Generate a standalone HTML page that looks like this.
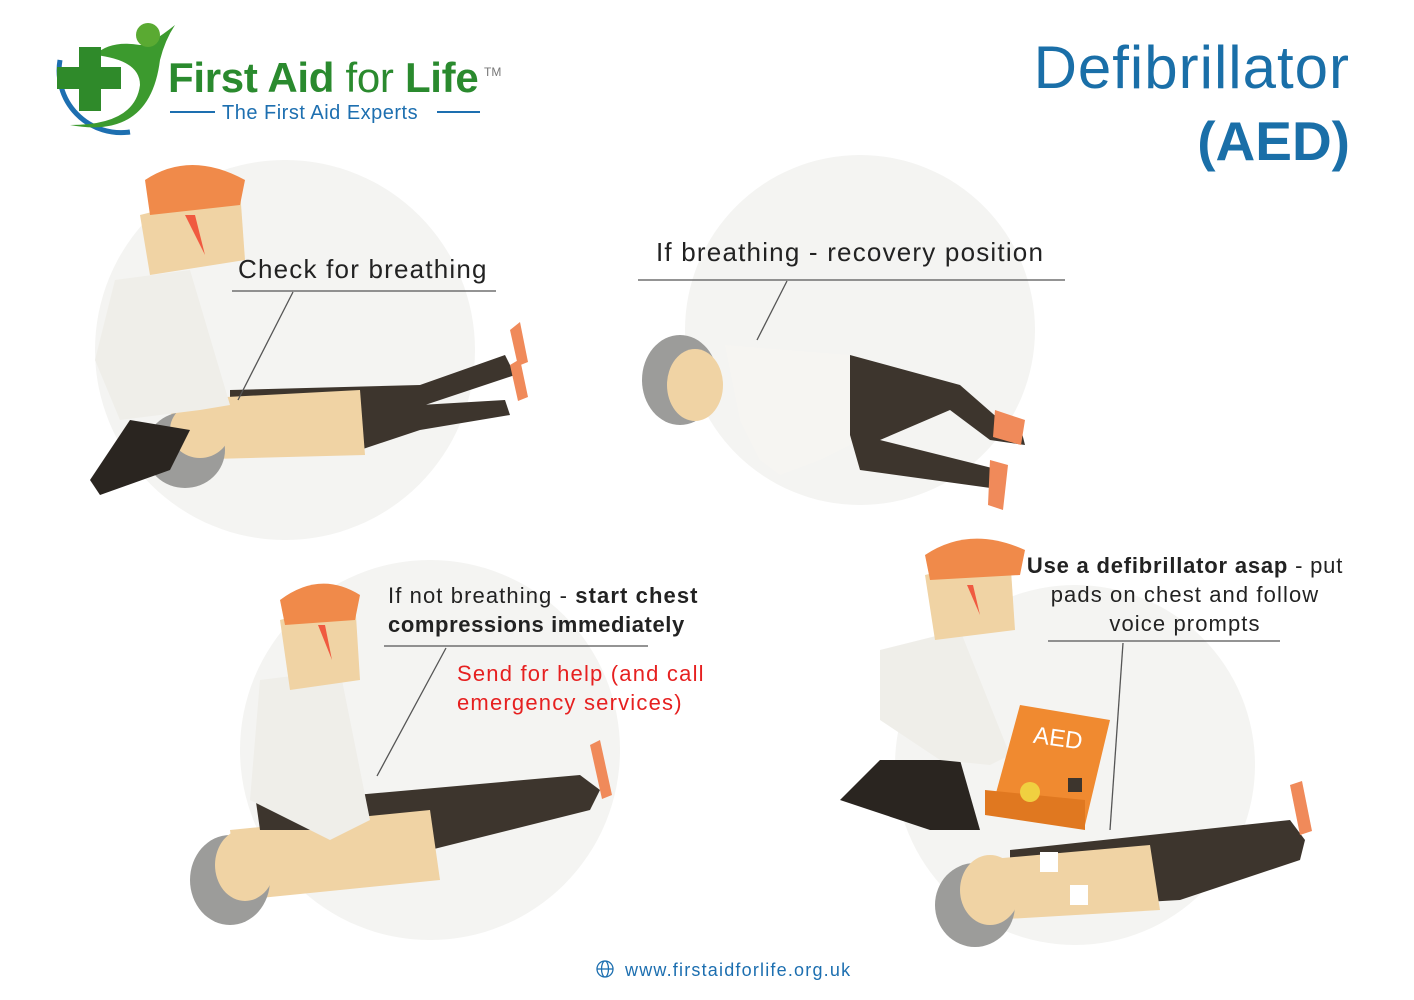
<!DOCTYPE html>
<html><head><meta charset="utf-8"><style>
html,body{margin:0;padding:0;background:#fff;width:1414px;height:1000px;overflow:hidden}
svg{display:block}
text{font-family:"Liberation Sans",sans-serif}
</style></head><body>
<svg width="1414" height="1000" viewBox="0 0 1414 1000" xmlns="http://www.w3.org/2000/svg">
<g fill="#f4f4f2">
<circle cx="285" cy="350" r="190"/>
<circle cx="860" cy="330" r="175"/>
<circle cx="430" cy="750" r="190"/>
<circle cx="1075" cy="765" r="180"/>
</g>
<!-- logo -->
<path d="M60 60 A62 62 0 0 0 130 132" fill="none" stroke="#1d6fb0" stroke-width="5"/>
<path d="M70 125 Q150 140 160 60 Q165 40 175 25 Q150 45 140 45 Q110 40 95 55 Q140 60 140 85 Q135 125 70 125Z" fill="#3c9a2e"/>
<circle cx="148" cy="35" r="12" fill="#5aaa32"/>
<path d="M72 55h22v-20h22v20h20v22h-20v22h-22v-22h-22z" fill="#2f8a2a" transform="translate(-15,12)"/>
<text x="168" y="92" font-size="42" font-weight="bold" fill="#2a8a2e" letter-spacing="-0.3">First Aid <tspan font-weight="normal">for</tspan> Life</text>
<text x="484" y="76" font-size="12" fill="#777">TM</text>
<line x1="170" y1="112" x2="215" y2="112" stroke="#1d6fb0" stroke-width="2"/>
<line x1="437" y1="112" x2="480" y2="112" stroke="#1d6fb0" stroke-width="2"/>
<text x="222" y="119" font-size="20" fill="#1d6fb0" letter-spacing="0.5">The First Aid Experts</text>
<!-- title -->
<text x="1350" y="88" font-size="60" fill="#1a6fa8" text-anchor="end" letter-spacing="1">Defibrillator</text>
<text x="1350" y="160" font-size="55" font-weight="bold" fill="#1a6fa8" text-anchor="end">(AED)</text>

<!-- figure 1 -->
<g>
<path d="M230 390 L420 385 L505 355 L515 375 L425 405 L380 420 L420 405 L505 400 L510 415 L420 430 L360 450 L230 455Z" fill="#3d352d"/>
<path d="M170 400 L360 390 L365 455 L175 460Z" fill="#f0d3a4"/>
<ellipse cx="185" cy="450" rx="40" ry="38" fill="#9c9c9a"/>
<ellipse cx="200" cy="430" rx="30" ry="28" fill="#f0d3a4"/>
<path d="M510 330l10-8 8 40-10 4zM510 365l10-6 8 38-10 4z" fill="#f08a5a"/>
<path d="M90 480 L130 420 L190 430 L170 470 L100 495 Z" fill="#2a2520"/>
<path d="M115 280 L190 270 L230 405 L200 410 L120 420 L95 360Z" fill="#efeee9"/>
<path d="M140 215 L240 190 L245 260 L150 275Z" fill="#f0d3a4"/>
<path d="M145 180 Q190 150 245 180 L240 205 L150 215Z" fill="#f08a4a"/>
<path d="M185 215 L205 255 L195 215Z" fill="#f05a40"/>
</g>
<!-- figure 2 -->
<g>
<ellipse cx="680" cy="380" rx="38" ry="45" fill="#9c9c9a"/>
<ellipse cx="695" cy="385" rx="28" ry="36" fill="#f0d3a4"/>
<path d="M725 345 L850 355 L860 440 L820 460 L780 475 L760 460 L740 420Z" fill="#f6f5f2"/>
<path d="M850 355 L960 385 L1000 420 L1020 425 L1025 445 L990 440 L950 410 L880 440 L1000 470 L1005 490 L860 470 L850 435Z" fill="#3d352d"/>
<path d="M995 410l30 10-4 25-28-8zM990 460l18 5-5 45-15-5z" fill="#f08a5a"/>
</g>
<!-- figure 3 -->
<g>
<path d="M300 800 L580 775 L600 790 L590 810 L430 850 L320 875Z" fill="#3d352d"/>
<path d="M230 830 L430 810 L440 880 L240 900Z" fill="#f0d3a4"/>
<ellipse cx="230" cy="880" rx="40" ry="45" fill="#9c9c9a"/>
<ellipse cx="245" cy="865" rx="30" ry="36" fill="#f0d3a4"/>
<path d="M590 745l10-5 12 55-10 4z" fill="#f08a5a"/>
<path d="M255 795 L355 790 L345 830 L260 830Z" fill="#3d352d"/>
<path d="M260 680 L340 670 L370 820 L330 840 L290 820 L250 800Z" fill="#efeee9"/>
<path d="M280 620 L355 600 L360 680 L290 690Z" fill="#f0d3a4"/>
<path d="M280 600 Q320 570 360 595 L355 620 L285 625Z" fill="#f08a4a"/>
<path d="M318 625 L332 660 L325 625Z" fill="#f05a40"/>
</g>
<!-- figure 4 -->
<g>
<path d="M840 800 L880 760 L960 760 L980 830 L930 830 L870 810Z" fill="#2a2520"/>
<path d="M880 650 L960 630 L1010 755 L990 765 L940 760 L880 720Z" fill="#efeee9"/>
<path d="M925 575 L1010 555 L1015 630 L935 640Z" fill="#f0d3a4"/>
<path d="M925 555 Q970 525 1025 550 L1020 575 L930 580Z" fill="#f08a4a"/>
<path d="M967 585 L980 615 L973 585Z" fill="#f05a40"/>
<path d="M1020 705 L1110 720 L1085 825 L990 815Z" fill="#f08a30"/>
<path d="M985 790 L1085 800 L1085 830 L985 815Z" fill="#e07820"/>
<text x="1033" y="745" font-size="24" fill="#fff" transform="rotate(8 1050 740)">AED</text>
<circle cx="1030" cy="792" r="10" fill="#f0d040"/>
<rect x="1068" y="778" width="14" height="14" fill="#3d352d"/>
<path d="M1010 850 L1290 820 L1305 840 L1300 860 L1180 900 L1010 910Z" fill="#3d352d"/>
<path d="M980 860 L1150 845 L1160 910 L990 920Z" fill="#f0d3a4"/>
<rect x="1040" y="852" width="18" height="20" fill="#fff"/><rect x="1070" y="885" width="18" height="20" fill="#fff"/>
<ellipse cx="975" cy="905" rx="40" ry="42" fill="#9c9c9a"/>
<ellipse cx="990" cy="890" rx="30" ry="35" fill="#f0d3a4"/>
<path d="M1290 785l12-4 10 50-12 4z" fill="#f08a5a"/>
</g>

<!-- labels -->
<g fill="#222" font-size="26" letter-spacing="1.2">
<text x="238" y="278">Check for breathing</text>
<text x="656" y="261">If breathing - recovery position</text>
</g>
<g stroke="#555" stroke-width="1.3" fill="none">
<line x1="232" y1="291" x2="496" y2="291"/><line x1="293" y1="292" x2="238" y2="400"/>
<line x1="638" y1="280" x2="1065" y2="280"/><line x1="787" y1="281" x2="757" y2="340"/>
<line x1="384" y1="646" x2="648" y2="646"/><line x1="446" y1="648" x2="377" y2="776"/>
<line x1="1048" y1="641" x2="1280" y2="641"/><path d="M1123 643 L1110 830"/>
</g>
<g font-size="22" fill="#222" letter-spacing="1.1">
<text x="388" y="603">If not breathing - <tspan font-weight="bold">start chest</tspan></text>
<text x="388" y="632" font-weight="bold" letter-spacing="0.6">compressions immediately</text>
<text x="457" y="681" fill="#e62020" letter-spacing="1.2">Send for help (and call</text>
<text x="457" y="710" fill="#e62020" letter-spacing="1.2">emergency services)</text>
<text x="1185" y="573" text-anchor="middle" letter-spacing="0.8"><tspan font-weight="bold">Use a defibrillator asap</tspan> - put</text>
<text x="1185" y="602" text-anchor="middle">pads on chest and follow</text>
<text x="1185" y="631" text-anchor="middle">voice prompts</text>
</g>
<!-- footer -->
<g stroke="#1d6fb0" stroke-width="1.3" fill="none">
<circle cx="605" cy="969" r="8"/><ellipse cx="605" cy="969" rx="3.5" ry="8"/><line x1="597" y1="969" x2="613" y2="969"/>
</g>
<text x="625" y="976" font-size="18" fill="#1d6fb0" letter-spacing="1.2">www.firstaidforlife.org.uk</text>
</svg>
</body></html>
